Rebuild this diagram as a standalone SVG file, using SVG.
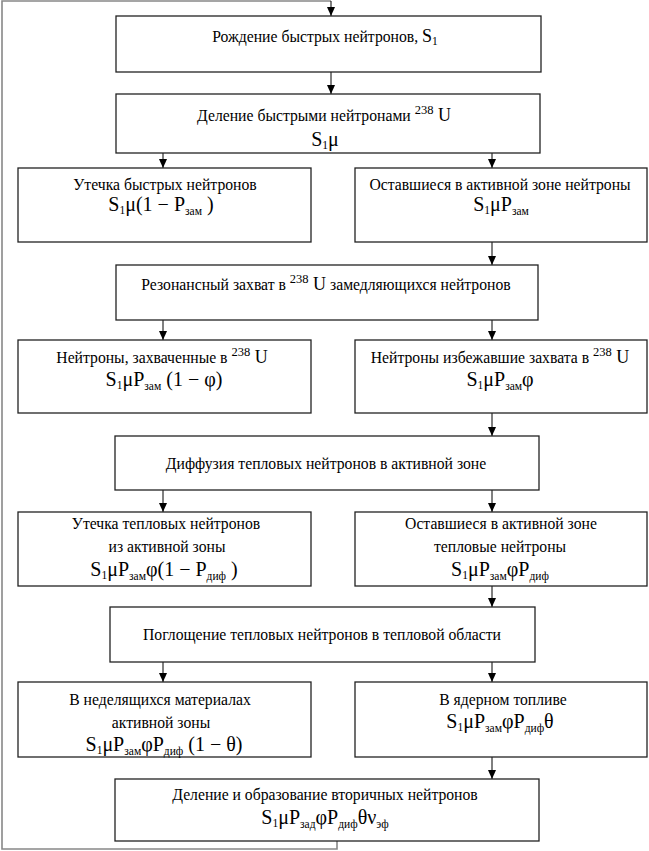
<svg xmlns="http://www.w3.org/2000/svg" width="649" height="851" viewBox="0 0 649 851">
<defs>
<marker id="arr" markerUnits="userSpaceOnUse" markerWidth="8" markerHeight="9" refX="4" refY="9" orient="0" viewBox="0 0 8 9">
<path d="M0,0 L8,0 L4,9 z" fill="#000"/>
</marker>
<style>
.box{fill:#fff;stroke:#222;stroke-width:1.3}
.t{font-family:"Liberation Serif","DejaVu Serif",serif;font-size:15.7px;fill:#000;text-anchor:middle}
.f{font-size:20px}
.sub{font-size:11.5px}
.sup{font-size:12.5px}
.u{font-size:18px}
.conn{stroke:#000;stroke-width:1;fill:none}
.loop{stroke:#888;stroke-width:1.6;fill:none}
</style>
</defs>
<rect width="649" height="851" fill="#fff"/>
<g id="connectors">
<polyline class="loop" points="337,841 337,849 2,849 2,1 331,1"/>
<line class="conn" x1="331" y1="1" x2="331" y2="16" marker-end="url(#arr)"/>
<line class="conn" x1="331" y1="72" x2="331" y2="94" marker-end="url(#arr)"/>
<line class="conn" x1="163" y1="153" x2="163" y2="168" marker-end="url(#arr)"/>
<line class="conn" x1="492" y1="153" x2="492" y2="168" marker-end="url(#arr)"/>
<line class="conn" x1="492" y1="242" x2="492" y2="265" marker-end="url(#arr)"/>
<line class="conn" x1="163" y1="320" x2="163" y2="340" marker-end="url(#arr)"/>
<line class="conn" x1="492" y1="320" x2="492" y2="340" marker-end="url(#arr)"/>
<line class="conn" x1="492" y1="413" x2="492" y2="436" marker-end="url(#arr)"/>
<line class="conn" x1="163" y1="490" x2="163" y2="512" marker-end="url(#arr)"/>
<line class="conn" x1="492" y1="490" x2="492" y2="512" marker-end="url(#arr)"/>
<line class="conn" x1="492" y1="586" x2="492" y2="607" marker-end="url(#arr)"/>
<line class="conn" x1="163" y1="662" x2="163" y2="682" marker-end="url(#arr)"/>
<line class="conn" x1="492" y1="662" x2="492" y2="682" marker-end="url(#arr)"/>
<line class="conn" x1="492" y1="757" x2="492" y2="779" marker-end="url(#arr)"/>
</g>
<g id="n1">
<rect class="box" x="116" y="16" width="425" height="56"/>
<text class="t" x="325" y="42">Рождение быстрых нейтронов, <tspan class="u">S</tspan><tspan class="sub" dy="3">1</tspan></text>
</g>
<g id="n2">
<rect class="box" x="116" y="94" width="424" height="59"/>
<text class="t" x="324" y="121">Деление быстрыми нейтронами <tspan class="sup" dy="-7">238</tspan><tspan class="u" dy="7"> U</tspan></text>
<text class="t" x="325" y="146"><tspan class="f">S</tspan><tspan class="sub" dy="3">1</tspan><tspan class="f" dy="-3">μ</tspan></text>
</g>
<g id="n3a">
<rect class="box" x="18" y="168" width="293" height="74"/>
<text class="t" x="165" y="190">Утечка быстрых нейтронов</text>
<text class="t" x="161" y="211"><tspan class="f">S</tspan><tspan class="sub" dy="3">1</tspan><tspan class="f" dy="-3">μ(1 − P</tspan><tspan class="sub" dy="4">зам</tspan><tspan class="f" dy="-4"> )</tspan></text>
</g>
<g id="n3b">
<rect class="box" x="355" y="168" width="292" height="74"/>
<text class="t" x="500" y="190">Оставшиеся в активной зоне нейтроны</text>
<text class="t" x="501" y="211"><tspan class="f">S</tspan><tspan class="sub" dy="3">1</tspan><tspan class="f" dy="-3">μP</tspan><tspan class="sub" dy="4">зам</tspan></text>
</g>
<g id="n4">
<rect class="box" x="116" y="265" width="422" height="55"/>
<text class="t" x="326" y="290">Резонансный захват в <tspan class="sup" dy="-7">238</tspan><tspan class="u" dy="7"> U</tspan>  замедляющихся нейтронов</text>
</g>
<g id="n5a">
<rect class="box" x="18" y="340" width="293" height="73"/>
<text class="t" x="162" y="363">Нейтроны, захваченные в <tspan class="sup" dy="-7">238</tspan><tspan class="u" dy="7"> U</tspan></text>
<text class="t" x="164" y="386"><tspan class="f">S</tspan><tspan class="sub" dy="3">1</tspan><tspan class="f" dy="-3">μP</tspan><tspan class="sub" dy="4">зам</tspan><tspan class="f" dy="-4"> (1 − φ)</tspan></text>
</g>
<g id="n5b">
<rect class="box" x="355" y="340" width="292" height="73"/>
<text class="t" x="500" y="363">Нейтроны избежавшие захвата в <tspan class="sup" dy="-7">238</tspan><tspan class="u" dy="7"> U</tspan></text>
<text class="t" x="500" y="386"><tspan class="f">S</tspan><tspan class="sub" dy="3">1</tspan><tspan class="f" dy="-3">μP</tspan><tspan class="sub" dy="4">зам</tspan><tspan class="f" dy="-4">φ</tspan></text>
</g>
<g id="n6">
<rect class="box" x="115" y="436" width="424" height="54"/>
<text class="t" x="326" y="469">Диффузия тепловых нейтронов в активной зоне</text>
</g>
<g id="n7a">
<rect class="box" x="18" y="512" width="293" height="74"/>
<text class="t" x="166" y="529">Утечка тепловых нейтронов</text>
<text class="t" x="167" y="552">из активной зоны</text>
<text class="t" x="164" y="576"><tspan class="f">S</tspan><tspan class="sub" dy="3">1</tspan><tspan class="f" dy="-3">μP</tspan><tspan class="sub" dy="4">зам</tspan><tspan class="f" dy="-4">φ(1 − P</tspan><tspan class="sub" dy="4">диф</tspan><tspan class="f" dy="-4"> )</tspan></text>
</g>
<g id="n7b">
<rect class="box" x="355" y="512" width="292" height="74"/>
<text class="t" x="501" y="529">Оставшиеся в активной зоне</text>
<text class="t" x="500" y="552">тепловые нейтроны</text>
<text class="t" x="500" y="576"><tspan class="f">S</tspan><tspan class="sub" dy="3">1</tspan><tspan class="f" dy="-3">μP</tspan><tspan class="sub" dy="4">зам</tspan><tspan class="f" dy="-4">φP</tspan><tspan class="sub" dy="4">диф</tspan></text>
</g>
<g id="n8">
<rect class="box" x="110" y="607" width="425" height="55"/>
<text class="t" x="322" y="640">Поглощение тепловых нейтронов в тепловой области</text>
</g>
<g id="n9a">
<rect class="box" x="18" y="682" width="293" height="75"/>
<text class="t" x="160" y="705">В неделящихся материалах</text>
<text class="t" x="161" y="728">активной зоны</text>
<text class="t" x="164" y="751"><tspan class="f">S</tspan><tspan class="sub" dy="3">1</tspan><tspan class="f" dy="-3">μP</tspan><tspan class="sub" dy="4">зам</tspan><tspan class="f" dy="-4">φP</tspan><tspan class="sub" dy="4">диф</tspan><tspan class="f" dy="-4"> (1 − θ)</tspan></text>
</g>
<g id="n9b">
<rect class="box" x="355" y="682" width="292" height="75"/>
<text class="t" x="503" y="705">В ядерном топливе</text>
<text class="t" x="500" y="728"><tspan class="f">S</tspan><tspan class="sub" dy="3">1</tspan><tspan class="f" dy="-3">μP</tspan><tspan class="sub" dy="4">зам</tspan><tspan class="f" dy="-4">φP</tspan><tspan class="sub" dy="4">диф</tspan><tspan class="f" dy="-4">θ</tspan></text>
</g>
<g id="n10">
<rect class="box" x="115" y="779" width="424" height="62"/>
<text class="t" x="325" y="800">Деление и образование вторичных нейтронов</text>
<text class="t" x="325" y="824"><tspan class="f">S</tspan><tspan class="sub" dy="3">1</tspan><tspan class="f" dy="-3">μP</tspan><tspan class="sub" dy="4">зад</tspan><tspan class="f" dy="-4">φP</tspan><tspan class="sub" dy="4">диф</tspan><tspan class="f" dy="-4">θν</tspan><tspan class="sub" dy="4">эф</tspan></text>
</g>
</svg>
